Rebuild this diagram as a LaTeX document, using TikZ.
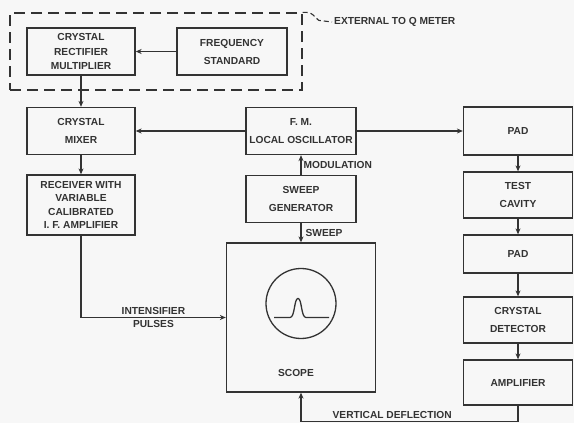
\documentclass[tikz,border=0pt]{standalone}
\usepackage{fontspec}
\setmainfont{Liberation Sans}
\usetikzlibrary{calc}
\usetikzlibrary{arrows.meta,positioning}
\definecolor{ink}{HTML}{333333}
\definecolor{paper}{HTML}{F7F7F7}
\tikzstyle{block} = [rectangle, draw=ink, line width=1.3pt, text=ink, align=center, inner sep=0pt, minimum width=109pt, minimum height=47pt, font=\bfseries\fontsize{10.2}{18}\selectfont]
\tikzstyle{extbox} = [rectangle, draw=ink, line width=1.3pt, dash pattern=on 11pt off 6pt]
\tikzstyle{lbl} = [text=ink, font=\bfseries\fontsize{10.2}{12}\selectfont, inner sep=2pt]
\tikzstyle{arrow} = [draw=ink, line width=1.3pt, -{Stealth[length=6pt,width=5pt]}]

\begin{document}
\begin{tikzpicture}[x=1pt, y=-1pt]

\fill [paper] (0,0) rectangle (574,423);

\node (ext) [extbox, minimum width=292pt, minimum height=77pt] at (156,51.5) {};
\node (rect) [block, minimum width=108pt, font=\bfseries\fontsize{10.2}{14.5}\selectfont] at (81,51.5) {CRYSTAL\\RECTIFIER\\MULTIPLIER};
\node (freq) [block, minimum width=110pt, node distance=151pt, right of=rect] {FREQUENCY\\STANDARD};
\node (extlbl) [lbl, anchor=west] at (332,22) {EXTERNAL TO Q METER};

\node (mixer) [block, minimum width=108pt, node distance=79.5pt, below of=rect] {CRYSTAL\\MIXER};
\node (recv) [block, minimum width=108pt, minimum height=60pt, node distance=74pt, below of=mixer, font=\bfseries\fontsize{10.2}{13.5}\selectfont] {RECEIVER WITH\\VARIABLE\\CALIBRATED\\I. F. AMPLIFIER};

\node (lo) [block, minimum width=110pt] at (301,131) {F. M.\\LOCAL OSCILLATOR};
\node (sweep) [block, minimum width=110pt, node distance=68pt, below of=lo] {SWEEP\\GENERATOR};
\node (scope) [block, minimum width=149pt, minimum height=149pt] at (301,317.5) {};

\node (pad1) [block, minimum height=48pt] at (518,131) {PAD};
\node (cavity) [block, minimum height=46pt, node distance=64pt, below of=pad1] {TEST\\CAVITY};
\node (pad2) [block, minimum height=38pt, node distance=59pt, below of=cavity] {PAD};
\node (det) [block, minimum height=46pt, node distance=66pt, below of=pad2] {CRYSTAL\\DETECTOR};
\node (amp) [block, minimum height=45pt, node distance=62.5pt, below of=det] {AMPLIFIER};

% scope face
\draw [ink, line width=1.3pt] ($(scope)+(0,-14)$) circle (35pt);
\draw [ink, line width=1.3pt] ($(scope)+(-27,0)$) -- ++(16,0) .. controls +(5,0) and +(-4,0) .. ++(8,-19) .. controls +(4,0) and +(-5,0) .. ++(8,19) -- ++(23,0);
\node (scopelbl) [lbl] at ($(scope)+(-5,55)$) {SCOPE};

\draw [ink, line width=1.1pt, dash pattern=on 5pt off 3pt] (ext.north east) -- ++(4,0) to[out=0,in=140] ++(12,8) -- (extlbl.west);

\draw [arrow] (freq) -- (rect);
\draw [arrow] (rect) -- (mixer);
\draw [arrow] (lo) -- (mixer);
\draw [arrow] (mixer) -- (recv);
\draw [arrow] (lo) -- (pad1);
\draw [arrow] (sweep) -- node[lbl, right] {MODULATION} (lo);
\draw [arrow] (sweep) -- node[lbl, right, xshift=2pt] {SWEEP} (scope);
\draw [arrow] (recv) |- node[lbl, above, pos=0.75] {INTENSIFIER} node[lbl, below, pos=0.75] {PULSES} (scope);

\draw [arrow] (pad1) -- (cavity);
\draw [arrow] (cavity) -- (pad2);
\draw [arrow] (pad2) -- (det);
\draw [arrow] (det) -- (amp);
\draw [arrow] (amp.south) -- ++(0,15.5) -| node[lbl, above, pos=0.29] {VERTICAL DEFLECTION} (scope);

\end{tikzpicture}
\end{document}
